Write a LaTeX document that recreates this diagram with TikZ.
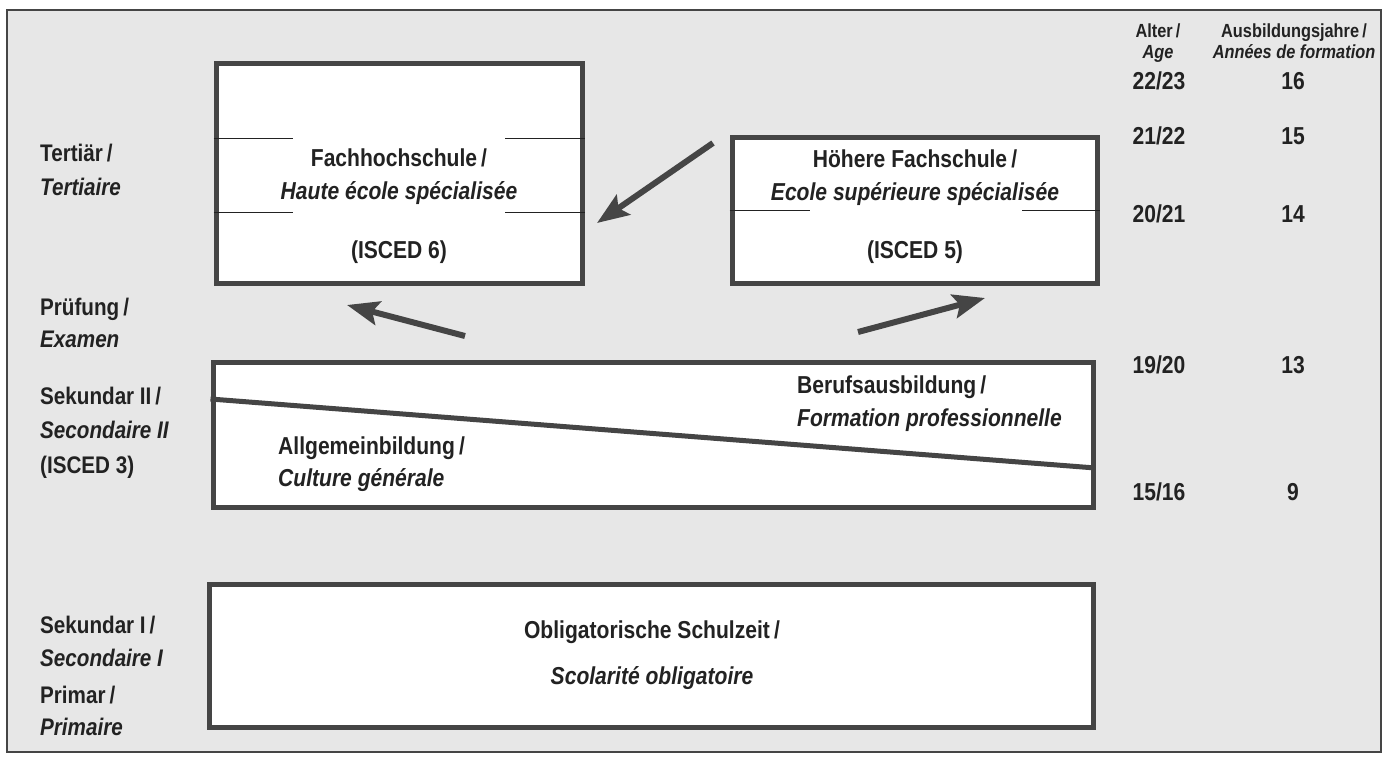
\documentclass[tikz,border=0pt]{standalone}
\usepackage{fontspec}
\setmainfont{Liberation Sans}[FakeStretch=0.86]
\usetikzlibrary{arrows.meta}
\definecolor{bgpaper}{HTML}{E7E7E7}
\definecolor{boxline}{HTML}{454545}
\definecolor{inkc}{HTML}{222222}
\tikzset{
  frame/.style={draw=boxline, line width=1.5pt, fill=bgpaper},
  levelbox/.style={draw=boxline, line width=5pt, fill=white, rectangle, inner sep=0pt},
  thinrule/.style={draw=inkc, line width=1pt},
  bigarrow/.style={draw=boxline, line width=6pt, -{Stealth[length=32pt,width=24pt,inset=6pt]}},
  lbl/.style={font=\fontsize{24.5}{28}\selectfont\bfseries, text=inkc, inner sep=0pt, text height=18pt, text depth=5pt},
  side/.style={font=\fontsize{24}{28}\selectfont\bfseries, text=inkc, inner sep=0pt, anchor=west, text height=17pt, text depth=5pt},
  head/.style={font=\fontsize{19}{22}\selectfont\bfseries, text=inkc, inner sep=0pt, text height=14pt, text depth=4pt},
  num/.style={font=\fontsize{24.5}{28}\selectfont\bfseries, text=inkc, inner sep=0pt, text height=18pt, text depth=5pt},
}
\begin{document}
\begin{tikzpicture}[x=1pt,y=-1pt]
\useasboundingbox (0,0) rectangle (1389,758);
\fill[white] (0,0) rectangle (1389,758);
\path[frame] (7,10) rectangle (1381,752);

% boxes
\node[levelbox, minimum width=366pt, minimum height=220pt] (fh) at (399,173) {};
\node[levelbox, minimum width=365pt, minimum height=146pt] (hf) at (914.5,210) {};
\node[levelbox, minimum width=880pt, minimum height=145pt] (sek) at (653,434.5) {};
\node[levelbox, minimum width=884pt, minimum height=143pt] (obl) at (651,655.5) {};

% thin rules in Fachhochschule box
\draw[thinrule] (fh.west |- 0,138) -- (293,138);
\draw[thinrule] (505,138) -- (fh.east |- 0,138);
\draw[thinrule] (fh.west |- 0,212) -- (293,212);
\draw[thinrule] (505,212) -- (fh.east |- 0,212);
% thin rules in Hoehere Fachschule box
\draw[thinrule] (hf.west |- 0,210) -- (810,210);
\draw[thinrule] (1022,210) -- (hf.east |- 0,210);

% diagonal in Sekundar II box
\coordinate (dl) at (sek.west |- 0,399);
\coordinate (dr) at (sek.east |- 0,468);
\draw[draw=boxline, line width=5pt] (dl) -- (dr);

% texts in boxes
\node[lbl] (fh1) at (399,160) {Fachhochschule\,/};
\node[lbl] (fh2) at (399,193) {\itshape Haute école spécialisée};
\node[lbl] (fh3) at (399,252) {(ISCED 6)};
\node[lbl] (hf1) at (915,161) {Höhere Fachschule\,/};
\node[lbl] (hf2) at (915,194) {\itshape Ecole supérieure spécialisée};
\node[lbl] (hf3) at (915,252) {(ISCED 5)};
\node[lbl, anchor=west] (bb1) at (797,387) {Berufsausbildung\,/};
\node[lbl, anchor=west] (bb2) at (797,420) {\itshape Formation professionnelle};
\node[lbl, anchor=west] (ab1) at (278,448) {Allgemeinbildung\,/};
\node[lbl, anchor=west] (ab2) at (278,480) {\itshape Culture générale};
\node[lbl] (ob1) at (652,632) {Obligatorische Schulzeit\,/};
\node[lbl] (ob2) at (652,678) {\itshape Scolarité obligatoire};

% arrows
\coordinate (a1s) at (713,143); \coordinate (a1e) at (597,223);
\coordinate (a2s) at (465,336); \coordinate (a2e) at (347,305);
\coordinate (a3s) at (858,332); \coordinate (a3e) at (985,298);
\draw[bigarrow] (a1s) -- (a1e);
\draw[bigarrow] (a2s) -- (a2e);
\draw[bigarrow] (a3s) -- (a3e);

% left labels
\node[side] (l1) at (40,155) {Tertiär\,/};
\node[side] (l2) at (40,189) {\itshape Tertiaire};
\node[side] (l3) at (40,309) {Prüfung\,/};
\node[side] (l4) at (40,341) {\itshape Examen};
\node[side] (l5) at (40,398) {Sekundar II\,/};
\node[side] (l6) at (40,432) {\itshape Secondaire II};
\node[side] (l7) at (40,467) {(ISCED 3)};
\node[side] (l8) at (40,627) {Sekundar I\,/};
\node[side] (l9) at (40,660) {\itshape Secondaire I};
\node[side] (l10) at (40,697) {Primar\,/};
\node[side] (l11) at (40,729) {\itshape Primaire};

% right column
\node[head] (h1) at (1158,32) {Alter\,/};
\node[head] (h2) at (1158,53) {\itshape Age};
\node[head] (h3) at (1294,32) {Ausbildungsjahre\,/};
\node[head] (h4) at (1294,53) {\itshape Années de formation};
\node[num] (r1a) at (1159,83) {22/23};  \node[num] (r1b) at (1293,83) {16};
\node[num] (r2a) at (1159,138) {21/22}; \node[num] (r2b) at (1293,138) {15};
\node[num] (r3a) at (1159,216) {20/21}; \node[num] (r3b) at (1293,216) {14};
\node[num] (r4a) at (1159,367) {19/20}; \node[num] (r4b) at (1293,367) {13};
\node[num] (r5a) at (1159,494) {15/16}; \node[num] (r5b) at (1293,494) {9};
\end{tikzpicture}
\end{document}
